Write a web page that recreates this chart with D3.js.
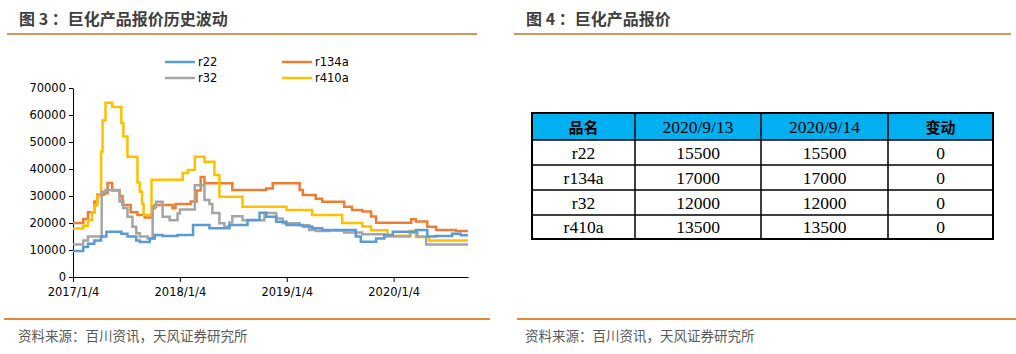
<!DOCTYPE html>
<html>
<head>
<meta charset="utf-8">
<script src="https://cdn.jsdelivr.net/npm/d3@7"></script>
<style>
  body { margin: 0; background: #fff; }
  svg { display: block; }
</style>
</head>
<body>
<div id="chart"></div>
<script>
// values (step series, price in yuan/ton)
const r22 = [
  ["2017-01-04", 9600], ["2017-02-08", 11100], ["2017-02-24", 12300], ["2017-03-18", 13500],
  ["2017-04-10", 15000], ["2017-04-28", 16800], ["2017-06-18", 16000], ["2017-07-09", 15000],
  ["2017-08-08", 13500], ["2017-08-20", 13000], ["2017-09-23", 14300], ["2017-10-10", 15600],
  ["2017-11-06", 15200], ["2017-12-27", 15600], ["2018-02-18", 19300], ["2018-04-15", 18100],
  ["2018-06-22", 19300], ["2018-08-23", 21100], ["2018-10-03", 23800], ["2018-10-26", 22300],
  ["2018-11-29", 20500], ["2019-01-03", 19300], ["2019-02-28", 18700], ["2019-04-01", 18100],
  ["2019-05-05", 17400], ["2019-08-28", 15000], ["2019-09-14", 13100], ["2019-11-05", 14300],
  ["2019-12-03", 15600], ["2020-01-01", 16800], ["2020-03-20", 17400], ["2020-04-28", 15000],
  ["2020-05-28", 15200], ["2020-07-22", 16000], ["2020-08-20", 15500], ["2020-09-14", 15500]
];
const r134a = [
  ["2017-01-04", 20000], ["2017-02-08", 21500], ["2017-02-24", 24000], ["2017-03-18", 28000],
  ["2017-03-28", 30500], ["2017-04-20", 31000], ["2017-05-02", 34800], ["2017-05-18", 32000],
  ["2017-06-12", 30000], ["2017-06-22", 26700], ["2017-07-20", 24000], ["2017-08-12", 23000],
  ["2017-09-06", 22000], ["2017-10-03", 25500], ["2017-10-10", 26700], ["2017-12-10", 25500],
  ["2017-12-20", 27000], ["2018-02-10", 28000], ["2018-03-02", 32000], ["2018-03-16", 37000],
  ["2018-03-29", 34700], ["2018-07-02", 32200], ["2018-10-26", 32800], ["2018-11-17", 34700],
  ["2019-02-17", 32200], ["2019-02-28", 30400], ["2019-04-13", 29000], ["2019-05-05", 27900],
  ["2019-07-19", 26000], ["2019-08-15", 24800], ["2019-09-19", 24300], ["2019-10-19", 22400],
  ["2019-11-05", 20100], ["2020-03-04", 21400], ["2020-03-20", 20600], ["2020-04-28", 18600],
  ["2020-05-28", 17400], ["2020-08-04", 17000], ["2020-09-14", 17000]
];
const r32 = [
  ["2017-01-04", 12000], ["2017-02-08", 13500], ["2017-02-24", 15000], ["2017-04-12", 31600],
  ["2017-04-25", 32200], ["2017-06-12", 28000], ["2017-06-25", 25600], ["2017-07-09", 22300],
  ["2017-07-26", 18600], ["2017-08-08", 16200], ["2017-08-20", 15000], ["2017-09-16", 14300],
  ["2017-10-03", 26000], ["2017-10-15", 27900], ["2017-11-06", 22300], ["2017-11-30", 21000],
  ["2017-12-27", 23500], ["2018-01-04", 25000], ["2018-02-24", 34000], ["2018-03-29", 28500],
  ["2018-04-15", 27000], ["2018-04-25", 23700], ["2018-05-19", 19900], ["2018-06-05", 18600],
  ["2018-06-22", 20200], ["2018-07-02", 22500], ["2018-08-06", 21000], ["2018-10-20", 23700],
  ["2018-11-29", 21700], ["2018-12-21", 19900], ["2019-02-17", 19200], ["2019-03-22", 17400],
  ["2019-04-13", 17000], ["2019-05-28", 17200], ["2019-07-19", 16500], ["2019-09-19", 15800],
  ["2019-12-03", 15000], ["2020-03-01", 16500], ["2020-03-25", 15000], ["2020-04-24", 12000],
  ["2020-09-14", 12000]
];
const r410a = [
  ["2017-01-04", 18000], ["2017-02-08", 19000], ["2017-02-24", 21000], ["2017-03-10", 24000],
  ["2017-03-18", 26500], ["2017-03-28", 30000], ["2017-04-10", 46500], ["2017-04-15", 58000],
  ["2017-04-25", 64500], ["2017-05-18", 63000], ["2017-06-18", 57000], ["2017-06-25", 52000],
  ["2017-07-09", 44500], ["2017-08-12", 35000], ["2017-08-20", 31600], ["2017-08-28", 27000],
  ["2017-09-02", 23000], ["2017-09-29", 36000], ["2018-01-14", 38500], ["2018-01-31", 39600],
  ["2018-02-24", 44500], ["2018-03-29", 42700], ["2018-05-02", 37800], ["2018-05-19", 29700],
  ["2018-08-06", 26000], ["2019-01-03", 24800], ["2019-04-01", 23000], ["2019-07-12", 20000],
  ["2019-09-19", 18700], ["2019-10-19", 17300], ["2019-12-14", 15300], ["2020-02-28", 17000],
  ["2020-03-20", 14800], ["2020-05-05", 13500], ["2020-09-14", 13500]
];
const seriesNames = ["r22", "r134a", "r32", "r410a"];
const seriesColors = ["#5B9BD5", "#ED7D31", "#A5A5A5", "#FFC000"];
const yTicks = [0, 10000, 20000, 30000, 40000, 50000, 60000, 70000];
const xTicks = ["2017-01-04", "2018-01-04", "2019-01-04", "2020-01-04"];

// table on the right
const tableHeader = ["品名", "2020/9/13", "2020/9/14", "变动"];
const tableRows = [
  ["r22", 15500, 15500, 0],
  ["r134a", 17000, 17000, 0],
  ["r32", 12000, 12000, 0],
  ["r410a", 13500, 13500, 0]
];

const W = 1016, H = 354;
const parse = d3.timeParse("%Y-%m-%d");
const cjk = "'Noto Sans CJK SC', 'Noto Sans', sans-serif";

const svg = d3.select("#chart").append("svg")
  .attr("width", W).attr("height", H)
  .attr("viewBox", `0 0 ${W} ${H}`);
svg.append("rect").attr("width", W).attr("height", H).attr("fill", "#fff");

// titles and rules
svg.append("text").text("图 3 ：巨化产品报价历史波动")
  .attr("x", 19).attr("y", 25)
  .attr("font-family", cjk).attr("font-weight", "bold").attr("font-size", 16).attr("fill", "#404040");
svg.append("text").text("图 4 ：巨化产品报价")
  .attr("x", 526).attr("y", 25)
  .attr("font-family", cjk).attr("font-weight", "bold").attr("font-size", 16).attr("fill", "#404040");

[[7, 477], [514, 1011]].forEach(r => {
  svg.append("line").attr("x1", r[0]).attr("x2", r[1]).attr("y1", 34).attr("y2", 34)
    .attr("stroke", "#D4965A").attr("stroke-width", 2);
});
[[4, 490], [517, 1016]].forEach(r => {
  svg.append("line").attr("x1", r[0]).attr("x2", r[1]).attr("y1", 319).attr("y2", 319)
    .attr("stroke", "#E3873A").attr("stroke-width", 2);
});
[18, 525].forEach(x => {
  svg.append("text").text("资料来源：百川资讯，天风证券研究所")
    .attr("x", x).attr("y", 341)
    .attr("font-family", cjk).attr("font-size", 13.5).attr("fill", "#595959");
});

// line chart
const x = d3.scaleTime()
  .domain([parse("2017-01-04"), parse("2020-09-14")])
  .range([73, 468]);
const y = d3.scaleLinear().domain([0, 70000]).range([277, 88]);

const yAxis = svg.append("g")
  .attr("transform", "translate(73,0)")
  .call(d3.axisLeft(y).tickValues(yTicks).tickSize(4).tickSizeOuter(0).tickPadding(3).tickFormat(d3.format("d")));
const xAxis = svg.append("g")
  .attr("transform", "translate(0,277)")
  .call(d3.axisBottom(x).tickValues(xTicks.map(parse)).tickSize(5).tickSizeOuter(0)
    .tickPadding(6).tickFormat(d3.timeFormat("%Y/%-m/%-d")));
[yAxis, xAxis].forEach(a => {
  a.selectAll("path, line").attr("stroke", "#000").attr("stroke-width", 1);
  a.selectAll("text").attr("font-family", "'DejaVu Sans', sans-serif").attr("font-size", 11.5).attr("fill", "#000");
});

const line = d3.line()
  .x(d => x(parse(d[0])))
  .y(d => y(d[1]))
  .curve(d3.curveStepAfter);

const allSeries = [r22, r134a, r32, r410a];
// draw order so the yellow and orange sit on top like the reference
[1, 3, 2, 0].forEach(i => {
  svg.append("path")
    .datum(allSeries[i])
    .attr("d", line)
    .attr("fill", "none")
    .attr("stroke", seriesColors[i])
    .attr("stroke-width", 2.5);
});

// legend
const legendPos = [[165, 62], [282, 62], [165, 78], [282, 78]];
seriesNames.forEach((name, i) => {
  const p = legendPos[i];
  svg.append("line").attr("x1", p[0]).attr("x2", p[0] + 30).attr("y1", p[1]).attr("y2", p[1])
    .attr("stroke", seriesColors[i]).attr("stroke-width", 2.5);
  svg.append("text").text(name).attr("x", p[0] + 33).attr("y", p[1] + 4)
    .attr("font-family", "'DejaVu Sans', sans-serif").attr("font-size", 11.5).attr("fill", "#000");
});

// table
const colEdges = [532, 635, 761, 888, 993];
const rowEdges = [113, 140, 165, 190, 215, 239];
const tbl = svg.append("g");
tbl.append("rect")
  .attr("x", colEdges[0]).attr("y", rowEdges[0])
  .attr("width", colEdges[4] - colEdges[0]).attr("height", rowEdges[1] - rowEdges[0])
  .attr("fill", "#00B0F0");
rowEdges.slice(1, -1).forEach(yy => {
  tbl.append("line").attr("x1", colEdges[0]).attr("x2", colEdges[4]).attr("y1", yy).attr("y2", yy)
    .attr("stroke", "#000").attr("stroke-width", 1.5);
});
colEdges.slice(1, -1).forEach(xx => {
  tbl.append("line").attr("x1", xx).attr("x2", xx).attr("y1", rowEdges[0]).attr("y2", rowEdges[5])
    .attr("stroke", "#000").attr("stroke-width", 1.5);
});
tbl.append("rect")
  .attr("x", colEdges[0]).attr("y", rowEdges[0])
  .attr("width", colEdges[4] - colEdges[0]).attr("height", rowEdges[5] - rowEdges[0])
  .attr("fill", "none").attr("stroke", "#000").attr("stroke-width", 2);

const cellText = (txt, c, r, isCjk) => {
  tbl.append("text").text(txt)
    .attr("x", (colEdges[c] + colEdges[c + 1]) / 2)
    .attr("y", (rowEdges[r] + rowEdges[r + 1]) / 2 + 6)
    .attr("text-anchor", "middle")
    .attr("font-family", isCjk ? "'Noto Sans CJK SC', serif" : "'Liberation Serif', 'Times New Roman', serif")
    .attr("font-size", isCjk ? 15 : 17.5)
    .attr("font-weight", isCjk ? "bold" : "normal")
    .attr("fill", "#000");
};
tableHeader.forEach((h, c) => cellText(h, c, 0, c === 0 || c === 3));
tableRows.forEach((row, r) => row.forEach((v, c) => cellText(v, c, r + 1, false)));
</script>
</body>
</html>
